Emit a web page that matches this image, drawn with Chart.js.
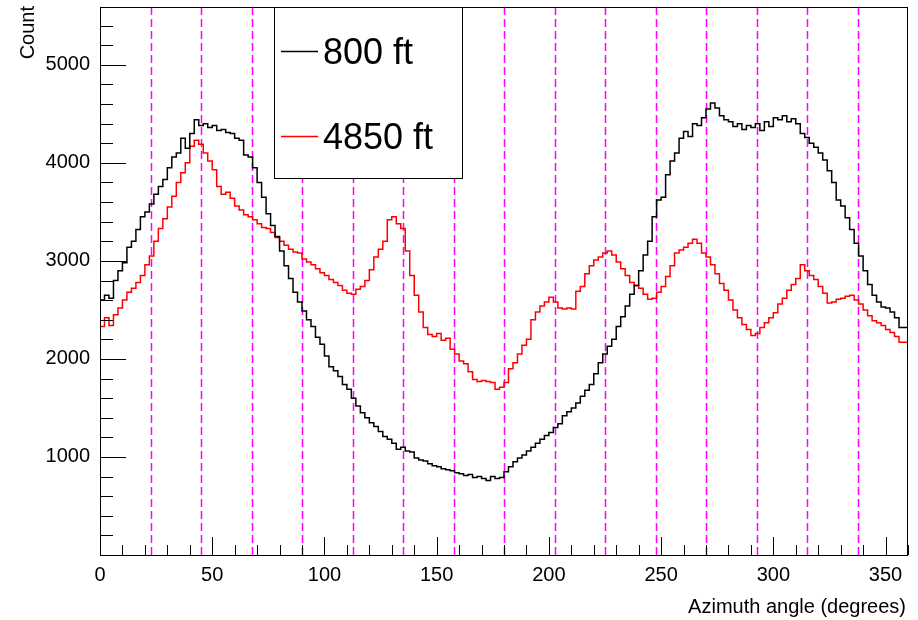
<!DOCTYPE html>
<html>
<head>
<meta charset="utf-8">
<title>Azimuth angle</title>
<script src="https://cdn.jsdelivr.net/npm/chart.js@4.4.1/dist/chart.umd.min.js"></script>
<style>
  html, body { margin: 0; padding: 0; background: #fff; }
  #wrap { width: 918px; height: 620px; }
</style>
</head>
<body>
<div id="wrap"><canvas id="c" width="918" height="620"></canvas></div>
<script>
// histogram bins, 2 degrees wide, starting at 0
var binWidth = 2;

var count800 = [
  2450, 2600, 2650, 2620, 2800, 2900, 2980, 3140, 3200, 3320,
  3450, 3500, 3580, 3680, 3760, 3830, 3950, 4060, 4100, 4250,
  4150, 4300, 4440, 4380, 4400, 4360, 4380, 4330, 4340, 4310,
  4300, 4250, 4230, 4080, 4060, 3950, 3800, 3650, 3480, 3360,
  3250, 3100, 2950, 2820, 2680, 2580, 2490, 2400, 2330, 2220,
  2150, 2030, 1920, 1880, 1820, 1740, 1690, 1600, 1520, 1450,
  1400, 1350, 1310, 1260, 1210, 1180, 1140, 1080, 1100, 1060,
  1050, 990, 970, 960, 930, 910, 900, 880, 870, 860,
  840, 830, 810, 820, 790, 800, 780, 760, 800, 780,
  790, 850, 900, 950, 990, 1020, 1060, 1100, 1140, 1180,
  1220, 1250, 1300, 1340, 1420, 1460, 1500, 1550, 1620, 1680,
  1740, 1850, 1960, 2050, 2130, 2200, 2330, 2430, 2540, 2660,
  2750, 2900, 3060, 3200, 3450, 3620, 3650, 3880, 4020, 4100,
  4250, 4320, 4270, 4400, 4380, 4460, 4550, 4610, 4560, 4480,
  4440, 4420, 4370, 4400, 4340, 4380, 4360, 4400, 4330, 4420,
  4370, 4460, 4440, 4480, 4420, 4450, 4400, 4300, 4260, 4200,
  4160, 4100, 4030, 3920, 3800, 3620, 3560, 3440, 3320, 3180,
  3050, 2900, 2760, 2650, 2580, 2530, 2520, 2480, 2420, 2320
];

var count4850 = [
  2280, 2330, 2420, 2340, 2450, 2520, 2600, 2680, 2720, 2780,
  2850, 2960, 3050, 3200, 3330, 3430, 3550, 3660, 3800, 3900,
  4000, 4170, 4230, 4190, 4100, 4020, 3930, 3760, 3680, 3700,
  3640, 3560, 3520, 3470, 3450, 3420, 3380, 3340, 3330, 3290,
  3240, 3200, 3160, 3120, 3090, 3080, 3020, 2990, 2960, 2920,
  2880, 2850, 2810, 2780, 2750, 2700, 2670, 2660, 2710, 2740,
  2800, 2910, 3040, 3120, 3200, 3420, 3450, 3380, 3330, 3100,
  2850, 2650, 2480, 2320, 2250, 2230, 2260, 2190, 2210, 2100,
  2050, 1980, 1950, 1870, 1790, 1770, 1780, 1770, 1760, 1690,
  1710, 1760, 1900, 1960, 2050, 2140, 2200, 2400, 2480, 2540,
  2580, 2630, 2580, 2520, 2510, 2520, 2510, 2690, 2740, 2870,
  2950, 3010, 3040, 3080, 3100, 3060, 2990, 2920, 2850, 2780,
  2750, 2720, 2660, 2610, 2620, 2680, 2740, 2840, 2950, 3080,
  3110, 3140, 3180, 3220, 3180, 3080, 3040, 2960, 2870, 2770,
  2700, 2600, 2500, 2420, 2350, 2300, 2240, 2260, 2320, 2370,
  2420, 2470, 2560, 2620, 2700, 2760, 2820, 2960, 2900, 2850,
  2810, 2740, 2670, 2570, 2580, 2610, 2620, 2640, 2650, 2600,
  2560, 2500, 2440, 2390, 2370, 2340, 2300, 2270, 2230, 2170
];

var seriesLabels = ['800 ft', '4850 ft'];
var seriesColors = ['#000000', '#ff0000'];

// dashed sector boundaries every 22.5 degrees
var dividerAngles = [22.5, 45, 67.5, 90, 112.5, 135, 157.5, 180, 202.5, 225, 247.5, 270, 292.5, 315, 337.5];

var xTickValues = [0, 10, 20, 30, 40, 50, 60, 70, 80, 90, 100, 110, 120, 130, 140, 150, 160, 170, 180,
  190, 200, 210, 220, 230, 240, 250, 260, 270, 280, 290, 300, 310, 320, 330, 340, 350, 360];
var xLabelValues = [0, 50, 100, 150, 200, 250, 300, 350];
var yTickValues = [0, 200, 400, 600, 800, 1000, 1200, 1400, 1600, 1800, 2000, 2200, 2400, 2600, 2800,
  3000, 3200, 3400, 3600, 3800, 4000, 4200, 4400, 4600, 4800, 5000, 5200, 5400];
var yLabelValues = [1000, 2000, 3000, 4000, 5000];

var FONT = '"Liberation Sans", Arial, Helvetica, sans-serif';

function histPoints(values) {
  var pts = values.map(function (v, i) { return { x: i * binWidth, y: v }; });
  pts.push({ x: values.length * binWidth, y: values[values.length - 1] });
  return pts;
}

var rootStyle = {
  id: 'rootStyle',
  beforeDatasetsDraw: function (chart) {
    var ctx = chart.ctx, ca = chart.chartArea, xs = chart.scales.x;
    ctx.save();
    ctx.strokeStyle = '#ff00ff';
    ctx.lineWidth = 1.5;
    ctx.setLineDash([8, 4]);
    dividerAngles.forEach(function (a) {
      var px = Math.round(xs.getPixelForValue(a)) + 0.5;
      ctx.beginPath();
      ctx.moveTo(px, ca.bottom);
      ctx.lineTo(px, ca.top);
      ctx.stroke();
    });
    ctx.restore();
  },
  afterDatasetsDraw: function (chart) {
    var ctx = chart.ctx, ca = chart.chartArea, xs = chart.scales.x, ys = chart.scales.y;
    ctx.save();
    ctx.strokeStyle = '#000';
    ctx.lineWidth = 1;

    // inward ticks, ROOT style
    xTickValues.forEach(function (v) {
      var px = Math.round(xs.getPixelForValue(v)) + 0.5;
      var len = v % 50 === 0 ? 18 : 10;
      ctx.beginPath();
      ctx.moveTo(px, ca.bottom);
      ctx.lineTo(px, ca.bottom - len);
      ctx.stroke();
    });
    yTickValues.forEach(function (v) {
      var py = Math.round(ys.getPixelForValue(v)) + 0.5;
      var len = v % 1000 === 0 ? 26 : 13;
      ctx.beginPath();
      ctx.moveTo(ca.left, py);
      ctx.lineTo(ca.left + len, py);
      ctx.stroke();
    });

    // frame
    ctx.strokeRect(Math.round(ca.left) + 0.5, Math.round(ca.top) + 0.5,
      Math.round(ca.right - ca.left) - 1, Math.round(ca.bottom - ca.top));

    // legend box
    var bx = ca.left + 174, by = ca.top, bw = 188, bh = 171;
    ctx.fillStyle = '#fff';
    ctx.fillRect(bx, by, bw, bh);
    ctx.strokeRect(bx + 0.5, by + 0.5, bw, bh);
    var rows = [44, 129];
    ctx.font = '36px ' + FONT;
    ctx.textBaseline = 'middle';
    ctx.textAlign = 'left';
    seriesLabels.forEach(function (lab, i) {
      var ry = by + rows[i];
      ctx.strokeStyle = seriesColors[i];
      ctx.lineWidth = 1.5;
      ctx.beginPath();
      ctx.moveTo(bx + 7, ry + 0.5);
      ctx.lineTo(bx + 44, ry + 0.5);
      ctx.stroke();
      ctx.fillStyle = '#000';
      ctx.fillText(lab, bx + 49, ry + 3);
    });

    // axis titles
    ctx.fillStyle = '#000';
    ctx.font = '20px ' + FONT;
    ctx.textAlign = 'right';
    ctx.textBaseline = 'alphabetic';
    ctx.fillText('Azimuth angle (degrees)', ca.right - 2, 613);
    ctx.translate(34, 6);
    ctx.rotate(-Math.PI / 2);
    ctx.fillText('Count', 0, 0);
    ctx.restore();
  }
};

function plainLabel(v) { return String(v); }

new Chart(document.getElementById('c'), {
  type: 'line',
  data: {
    datasets: [count800, count4850].map(function (vals, i) {
      return {
        label: seriesLabels[i],
        data: histPoints(vals),
        borderColor: seriesColors[i],
        borderWidth: 1.5,
        stepped: 'after',
        pointRadius: 0,
        fill: false
      };
    })
  },
  options: {
    responsive: false,
    animation: false,
    layout: { padding: { left: 0, top: 7, right: 10, bottom: 0 } },
    plugins: { legend: { display: false }, tooltip: { enabled: false } },
    scales: {
      x: {
        type: 'linear', min: 0, max: 360,
        grid: { display: false, drawTicks: false },
        border: { display: false },
        afterFit: function (s) { s.height = 65; s.paddingLeft = 0; s.paddingRight = 0; },
        afterBuildTicks: function (s) { s.ticks = xLabelValues.map(function (v) { return { value: v }; }); },
        ticks: {
          autoSkip: false, maxRotation: 0, padding: 8, color: '#000',
          font: { family: FONT, size: 20 }, callback: plainLabel
        }
      },
      y: {
        type: 'linear', min: 0, max: 5590,
        grid: { display: false, drawTicks: false },
        border: { display: false },
        afterFit: function (s) { s.width = 100; s.paddingTop = 0; s.paddingBottom = 0; },
        afterBuildTicks: function (s) { s.ticks = yLabelValues.map(function (v) { return { value: v }; }); },
        ticks: {
          padding: 10, color: '#000',
          font: { family: FONT, size: 20 }, callback: plainLabel
        }
      }
    }
  },
  plugins: [rootStyle]
});
</script>
</body>
</html>
